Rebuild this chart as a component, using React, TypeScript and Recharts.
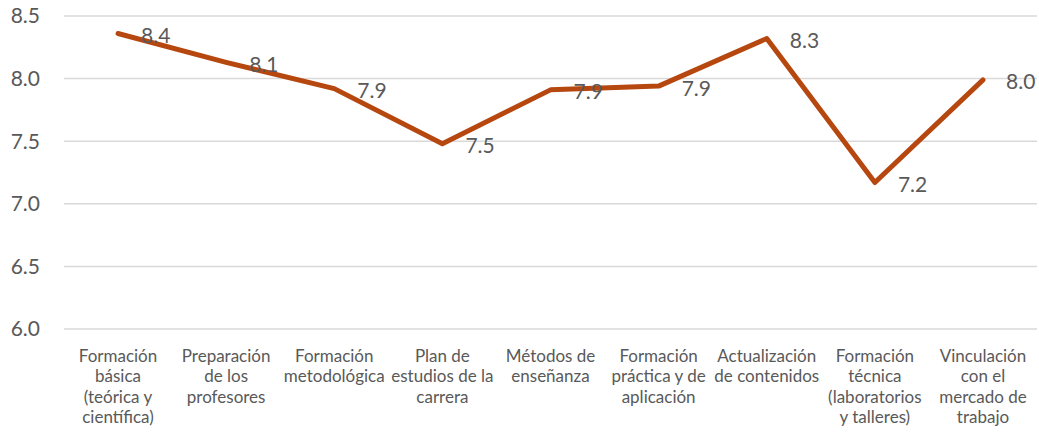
import React from 'react';
import { LineChart, Line, XAxis, YAxis, CartesianGrid, LabelList } from 'recharts';

// Categorías (con saltos de línea como en el original)
const categories = [
  'Formación\nbásica\n(teórica y\ncientífica)',
  'Preparación\nde los\nprofesores',
  'Formación\nmetodológica',
  'Plan de\nestudios de la\ncarrera',
  'Métodos de\nenseñanza',
  'Formación\npráctica y de\naplicación',
  'Actualización\nde contenidos',
  'Formación\ntécnica\n(laboratorios\ny talleres)',
  'Vinculación\ncon el\nmercado de\ntrabajo',
];

const scores = [8.36, 8.13, 7.92, 7.48, 7.91, 7.94, 8.32, 7.17, 7.99];

const yTicks = [6.0, 6.5, 7.0, 7.5, 8.0, 8.5];

const data = categories.map((c, i) => ({ name: c, value: scores[i] }));

const TEXT = '#595959';
const FONT = 'Lato, "Open Sans", sans-serif';

const CategoryTick = (props: any) => {
  const { x, y, payload } = props;
  const lines = String(payload.value).split('\n');
  return (
    <g>
      {lines.map((l, i) => (
        <text
          key={i}
          x={x}
          y={y + 18 + i * 20.5}
          textAnchor="middle"
          dominantBaseline="central"
          fill={TEXT}
          fontSize={17}
          fontFamily={FONT}
        >
          {l}
        </text>
      ))}
    </g>
  );
};

const ValueLabel = (props: any) => {
  const { x, y, value } = props;
  return (
    <text
      x={x + 23}
      y={y + 1}
      textAnchor="start"
      dominantBaseline="central"
      fill={TEXT}
      fontSize={21}
      fontFamily={FONT}
    >
      {Number(value).toFixed(1)}
    </text>
  );
};

export default function App() {
  return (
    <div style={{ width: 1039, height: 434, background: '#fff' }}>
      <style>{`body{margin:0}`}</style>
      <LineChart width={1039} height={434} data={data} margin={{ top: 16, right: 2, left: 0, bottom: 0 }}>
        <CartesianGrid vertical={false} stroke="#d9d9d9" strokeWidth={1.5} />
        <XAxis
          dataKey="name"
          interval={0}
          axisLine={false}
          tickLine={false}
          height={105}
          padding={{ left: 54, right: 54 }}
          tick={<CategoryTick />}
        />
        <YAxis
          domain={[6, 8.5]}
          ticks={yTicks}
          width={64}
          axisLine={false}
          tickLine={false}
          tickSize={0}
          tickMargin={24}
          tickFormatter={(v: number) => v.toFixed(1)}
          tick={{ fill: TEXT, fontSize: 21, fontFamily: FONT }}
        />
        <Line
          type="linear"
          dataKey="value"
          stroke="#b5470f"
          strokeWidth={5}
          strokeLinecap="round"
          strokeLinejoin="round"
          dot={false}
          isAnimationActive={false}
        >
          <LabelList dataKey="value" content={<ValueLabel />} />
        </Line>
      </LineChart>
    </div>
  );
}
